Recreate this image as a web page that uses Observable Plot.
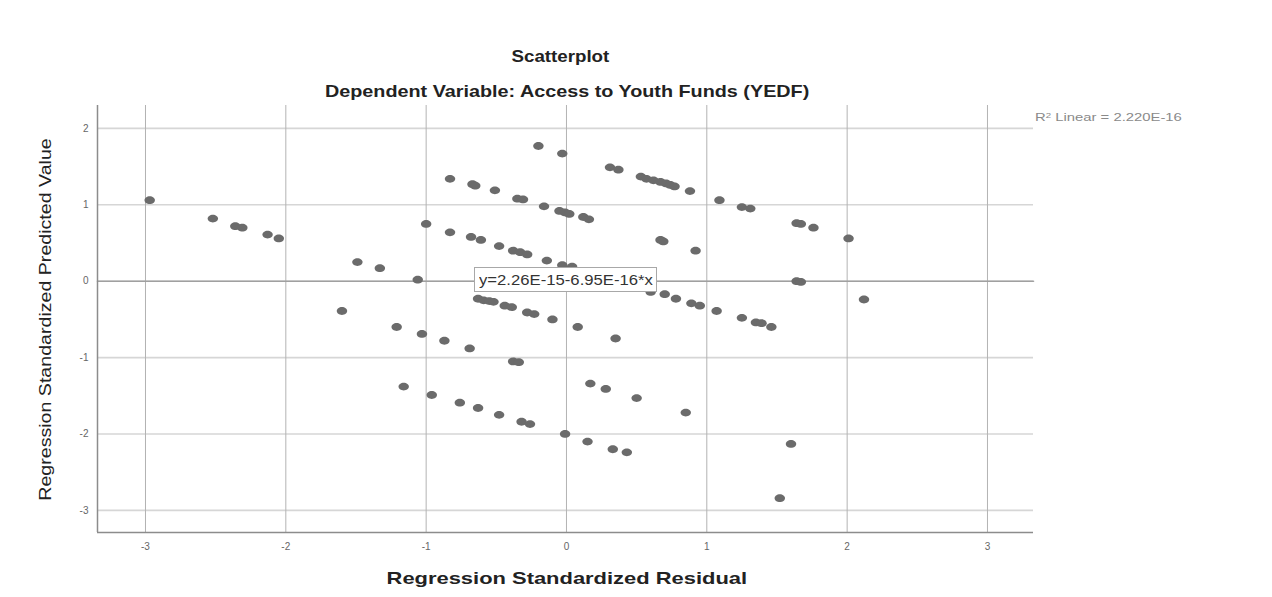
<!DOCTYPE html>
<html>
<head>
<meta charset="utf-8">
<script src="https://cdn.jsdelivr.net/npm/d3@7"></script>
<script src="https://cdn.jsdelivr.net/npm/@observablehq/plot@0.6"></script>
<style>
  html, body { margin: 0; padding: 0; background: #fff; }
  #wrap { position: relative; width: 1272px; height: 597px; overflow: hidden; font-family: "Liberation Sans", Arial, sans-serif; }
  #chart { position: absolute; left: 0; top: 100px; }
  .lbl { position: absolute; white-space: nowrap; transform-origin: 50% 50%; line-height: 1; }
  .lbl sup { font-size: 0.65em; line-height: 0; vertical-align: 0.45em; }
  #eqbox { position: absolute; left: 474px; top: 267px; width: 181px; height: 23px; border: 1px solid #a8a8a8; background: #fff; }
</style>
</head>
<body>
<div id="wrap">
  <div id="chart"></div>
</div>
<script>
// ---- data ----
const residual = [
  -2.97, -2.52, -2.36, -2.31, -2.13, -2.05, -1.49, -1.33, -1.06, -1.00,
  -0.83, -0.83, -0.20, -0.03, -0.67, -0.65, -0.51, -0.35, -0.31, -0.16,
  -0.05, -0.01, 0.02, 0.12, 0.16, 0.31, 0.37, 0.53, 0.57, 0.62,
  0.67, 0.71, 0.74, 0.77, 0.88, 1.09, 1.25, 1.31, -0.68, -0.61,
  -0.48, -0.38, -0.33, -0.28, -0.14, -0.03, 0.04, 0.67, 0.69, 0.92,
  1.64, 1.67, 1.76, 2.01, 1.64, 1.67, 2.12, -1.60, -1.21, -1.03,
  -0.87, -0.69, -0.38, -0.34, -0.63, -0.59, -0.55, -0.52, -0.44, -0.39,
  -0.28, -0.23, -0.10, 0.08, 0.35, -1.16, -0.96, -0.76, -0.63, -0.48,
  -0.32, -0.26, -0.01, 0.15, 0.33, 0.43, 0.17, 0.28, 0.50, 0.85,
  1.60, 1.52, 0.60, 0.70, 0.78, 0.89, 0.95, 1.07, 1.25, 1.35,
  1.39, 1.46
];
const predicted = [
  1.06, 0.82, 0.72, 0.70, 0.61, 0.56, 0.25, 0.17, 0.02, 0.75,
  1.34, 0.64, 1.77, 1.67, 1.27, 1.25, 1.19, 1.08, 1.07, 0.98,
  0.92, 0.90, 0.88, 0.84, 0.81, 1.49, 1.46, 1.37, 1.34, 1.32,
  1.30, 1.28, 1.26, 1.24, 1.18, 1.06, 0.97, 0.95, 0.58, 0.54,
  0.46, 0.40, 0.38, 0.35, 0.27, 0.21, 0.19, 0.54, 0.52, 0.40,
  0.76, 0.75, 0.70, 0.56, 0.00, -0.01, -0.24, -0.39, -0.60, -0.69,
  -0.78, -0.88, -1.05, -1.06, -0.23, -0.25, -0.26, -0.27, -0.32, -0.34,
  -0.41, -0.43, -0.50, -0.60, -0.75, -1.38, -1.49, -1.59, -1.66, -1.75,
  -1.84, -1.87, -2.00, -2.10, -2.20, -2.24, -1.34, -1.41, -1.53, -1.72,
  -2.13, -2.84, -0.14, -0.17, -0.23, -0.29, -0.32, -0.39, -0.48, -0.54,
  -0.55, -0.60
];
const xTicks = [-3, -2, -1, 0, 1, 2, 3];
const yTicks = [-3, -2, -1, 0, 1, 2];
const xDomain = [-3.342, 3.328];
const yDomain = [-3.29, 2.30];
const fitIntercept = 2.26e-15;
const fitSlope = -6.95e-16;

const titleText = "Scatterplot";
const subtitleText = "Dependent Variable: Access to Youth Funds (YEDF)";
const xLabelText = "Regression Standardized Residual";
const yLabelText = "Regression Standardized Predicted Value";
const r2Html = "R<sup>2</sup> Linear = 2.220E-16";
const eqText = "y=2.26E-15-6.95E-16*x";

// ---- build tables ----
const points = residual.map((x, i) => ({x, y: predicted[i]}));
const fitLine = xDomain.map(x => ({x, y: fitIntercept + fitSlope * x}));

const ellipse = {
  draw(context) {
    const rx = 5.2, ry = 3.9, k = 0.5523;
    context.moveTo(rx, 0);
    context.bezierCurveTo(rx, k * ry, k * rx, ry, 0, ry);
    context.bezierCurveTo(-k * rx, ry, -rx, k * ry, -rx, 0);
    context.bezierCurveTo(-rx, -k * ry, -k * rx, -ry, 0, -ry);
    context.bezierCurveTo(k * rx, -ry, rx, -k * ry, rx, 0);
    context.closePath();
  }
};

const tickFmt = d => String(d);

const chart = Plot.plot({
  width: 1272,
  height: 497,
  marginTop: 5,
  marginBottom: 65,
  marginLeft: 97,
  marginRight: 239,
  style: { fontFamily: "'Liberation Sans', Arial, sans-serif", background: "transparent" },
  x: { domain: xDomain, ticks: xTicks },
  y: { domain: yDomain, ticks: yTicks },
  marks: [
    Plot.gridY(yTicks, { stroke: "#d6d6d6", strokeOpacity: 1, strokeWidth: 1.6 }),
    Plot.gridX(xTicks, { stroke: "#b3b3b3", strokeOpacity: 1, strokeWidth: 1 }),
    Plot.line(fitLine, { x: "x", y: "y", stroke: "#a0a0a0", strokeWidth: 1.6 }),
    Plot.dot(points, { x: "x", y: "y", symbol: ellipse, fill: "#6b6b6b", stroke: "none", r: 4.5 }),
    Plot.ruleX([xDomain[0]], { stroke: "#8c8c8c", strokeWidth: 1.5 }),
    Plot.ruleY([yDomain[0]], { stroke: "#8c8c8c", strokeWidth: 1.5 }),
    Plot.axisX(xTicks, { tickSize: 0, tickPadding: 10, fontSize: 10, fill: "#666", label: null, tickFormat: tickFmt }),
    Plot.axisY(yTicks, { tickSize: 0, tickPadding: 9, fontSize: 10, fill: "#666", label: null, tickFormat: tickFmt })
  ]
});
document.getElementById("chart").appendChild(chart);

// ---- text labels (HTML) fitted to the reference widths ----
const wrap = document.getElementById("wrap");
function label(html, opts) {
  const el = document.createElement("div");
  el.className = "lbl";
  el.innerHTML = html;
  el.style.fontSize = opts.size + "px";
  el.style.fontWeight = opts.bold ? "bold" : "normal";
  el.style.color = opts.color || "#222";
  wrap.appendChild(el);
  const w = el.offsetWidth, h = el.offsetHeight;
  const s = opts.width / w;
  el.style.left = (opts.cx - w / 2) + "px";
  el.style.top = (opts.cy - h / 2) + "px";
  el.style.transform = (opts.rotate ? "rotate(-90deg) " : "") + "scaleX(" + s + ")";
  return el;
}
label(titleText, { size: 17, bold: true, cx: 560, cy: 56, width: 98 });
label(subtitleText, { size: 17, bold: true, cx: 567, cy: 91, width: 484 });
label(xLabelText, { size: 17, bold: true, cx: 567, cy: 578, width: 361 });
label(yLabelText, { size: 17, bold: false, cx: 45, cy: 319, width: 362, rotate: true });
label(r2Html, { size: 11, bold: false, cx: 1108.5, cy: 117, width: 147, color: "#8a8a8a" });

const box = document.createElement("div");
box.id = "eqbox";
wrap.appendChild(box);
label(eqText, { size: 14, bold: false, cx: 565.5, cy: 280, width: 174, color: "#333" });
</script>
</body>
</html>
